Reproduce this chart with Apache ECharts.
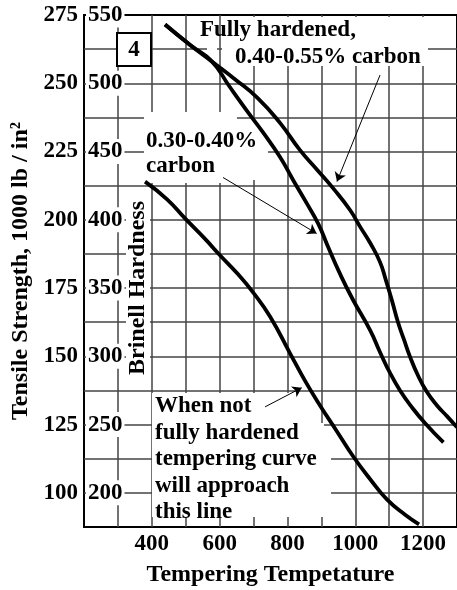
<!DOCTYPE html>
<html>
<head>
<meta charset="utf-8">
<script src="https://cdn.jsdelivr.net/npm/echarts@6/dist/echarts.min.js"></script>
<style>
html,body{margin:0;padding:0;background:#fff;}
#chart{width:457px;height:590px;}
</style>
</head>
<body>
<div id="chart"></div>
<script>
// ---- data ----
const xTickLabels = [400, 600, 800, 1000, 1200];
const brinellTickLabels = [200, 250, 300, 350, 400, 450, 500, 550];
const tensileTickLabels = [100, 125, 150, 175, 200, 225, 250, 275];

// Fully hardened, 0.40-0.55% carbon
const tempFull = [439, 513, 577, 645, 713, 778, 837, 886, 935, 985, 1014, 1044, 1073, 1090, 1108, 1126, 1144, 1161, 1185, 1211, 1241, 1271, 1300];
const hardFull = [543, 528, 516, 503, 489, 471, 451, 437, 423, 407, 395, 383, 369, 356, 341, 325, 312, 300, 286, 274, 264, 256, 248];

// 0.30-0.40% carbon
const tempMid = [439, 513, 577, 628, 680, 728, 778, 817, 857, 891, 920, 952, 992, 1044, 1073, 1102, 1132, 1166, 1206, 1260];
const hardMid = [543, 528, 516, 498, 480, 464, 446, 429, 412, 397, 380, 362, 342, 319, 303, 288, 275, 263, 251, 237];

// When not fully hardened
const tempNot = [380, 445, 498, 557, 601, 651, 698, 749, 808, 852, 896, 946, 993, 1044, 1094, 1147, 1188];
const hardNot = [428, 415, 401, 386, 374, 361, 347, 329, 302, 282, 264, 245, 227, 210, 195, 184, 177];

// annotation arrows [from, to] in (temperature, Brinell)
const arrowFull = [[1073, 506], [946, 428]];
const arrowMid = [[610, 431], [886, 390]];
const arrowNot = [[734, 263], [842, 277]];

// ---- chart ----
const FONT = '"Liberation Serif", "Times New Roman", serif';
const zip = (a, b) => a.map((v, i) => [v, b[i]]);
const chart = echarts.init(document.getElementById('chart'), null, {renderer: 'canvas'});

const txt = (text, x, y, extra) => Object.assign({
  type: 'text', x: x, y: y, z: 4,
  style: {text: text, font: 'bold 23px ' + FONT, fill: '#000', align: 'left', verticalAlign: 'middle'}
}, extra || {});
const cover = (x, y, w, h) => ({type: 'rect', z: 3, shape: {x: x, y: y, width: w, height: h}, style: {fill: '#fff'}});
const GRID_LINE = {color: '#444', width: 1.5};

chart.setOption({
  animation: false,
  backgroundColor: '#fff',
  grid: {left: 84, right: 0, top: 15, bottom: 63, show: true, borderColor: '#000', borderWidth: 2, outerBoundsMode: 'none', containLabel: false},
  xAxis: {
    type: 'value', min: 200, max: 1300, interval: 100,
    name: 'Tempering Tempetature', nameLocation: 'middle', nameGap: 36,
    nameTextStyle: {fontFamily: FONT, fontWeight: 'bold', fontSize: 24, color: '#000'},
    axisLine: {show: false}, axisTick: {show: false},
    axisLabel: {customValues: xTickLabels, formatter: v => String(v), fontFamily: FONT, fontWeight: 'bold', fontSize: 23, color: '#000', margin: 6},
    splitLine: {show: true, showMinLine: false, showMaxLine: false, lineStyle: GRID_LINE}
  },
  yAxis: [
    {
      type: 'value', min: 175, max: 550, interval: 25, position: 'left', z: 1,
      axisLine: {show: false}, axisTick: {show: false},
      axisLabel: {customValues: brinellTickLabels, formatter: v => String(v), inside: true, margin: 2, fontFamily: FONT, fontWeight: 'bold', fontSize: 23, color: '#000', backgroundColor: '#fff', padding: [2, 2, 0, 2]},
      splitLine: {show: true, showMinLine: false, showMaxLine: false, lineStyle: GRID_LINE}
    },
    {
      type: 'value', min: 87.5, max: 275, interval: 12.5, position: 'left',
      name: 'Tensile Strength, 1000 lb / in²', nameLocation: 'middle', nameRotate: 90, nameGap: 50,
      nameTextStyle: {fontFamily: FONT, fontWeight: 'bold', fontSize: 24, color: '#000'},
      axisLine: {show: false}, axisTick: {show: false}, splitLine: {show: false},
      axisLabel: {customValues: tensileTickLabels, formatter: v => String(v), margin: 6, fontFamily: FONT, fontWeight: 'bold', fontSize: 23, color: '#000'}
    }
  ],
  graphic: [
    cover(222, 17, 206, 49),
    cover(207, 45, 10, 8),
    cover(144, 112, 93, 71),
    cover(237, 122, 31, 58),
    cover(126, 200, 24, 178),
    cover(152, 393, 144, 124),
    cover(296, 423, 28, 94),
    cover(324, 440, 7, 77),
    {type: 'rect', z: 3, shape: {x: 117, y: 33, width: 34, height: 33}, style: {fill: '#fff', stroke: '#000', lineWidth: 2}},
    txt('4', 134, 50, {style: {text: '4', font: 'bold 23px ' + FONT, fill: '#000', align: 'center', verticalAlign: 'middle'}}),
    txt('Fully hardened,', 200, 30),
    txt('0.40-0.55% carbon', 235, 57),
    txt('0.30-0.40%', 146, 141),
    txt('carbon', 146, 166),
    txt('When not', 155, 406),
    txt('fully hardened', 155, 433),
    txt('tempering curve', 155, 459),
    txt('will approach', 155, 486),
    txt('this line', 155, 512),
    txt('Brinell Hardness', 138, 288, {rotation: Math.PI / 2, style: {text: 'Brinell Hardness', font: 'bold 24px ' + FONT, fill: '#000', align: 'center', verticalAlign: 'middle'}})
  ],
  series: [
    {type: 'line', name: 'Fully hardened, 0.40-0.55% carbon', data: zip(tempFull, hardFull), yAxisIndex: 0, z: 5, smooth: 0.5, showSymbol: false, lineStyle: {color: '#000', width: 3.8}},
    {type: 'line', name: '0.30-0.40% carbon', data: zip(tempMid, hardMid), yAxisIndex: 0, z: 5, smooth: 0.5, showSymbol: false, lineStyle: {color: '#000', width: 3.8}},
    {type: 'line', name: 'When not fully hardened', data: zip(tempNot, hardNot), yAxisIndex: 0, z: 5, smooth: 0.5, showSymbol: false, lineStyle: {color: '#000', width: 3.8}},
    {type: 'lines', coordinateSystem: 'cartesian2d', xAxisIndex: 0, yAxisIndex: 0, z: 5,
     symbol: ['none', 'arrow'], symbolSize: 9,
     lineStyle: {color: '#000', width: 1, opacity: 1},
     data: [{coords: arrowFull}, {coords: arrowMid}, {coords: arrowNot}]}
  ]
});
</script>
</body>
</html>
